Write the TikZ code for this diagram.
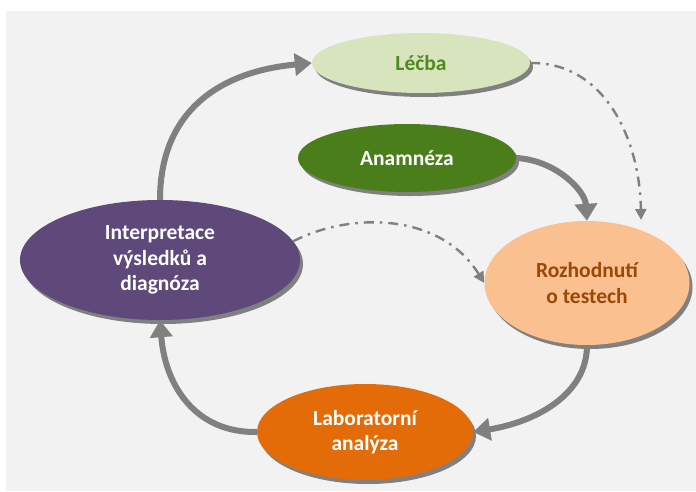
\documentclass[tikz,border=0pt]{standalone}
\usepackage{fontspec}
\setmainfont{Carlito}
\usetikzlibrary{shadows,arrows.meta,shapes.geometric}
\definecolor{bg}{HTML}{F2F2F2}
\definecolor{lecbafill}{HTML}{D7E4BD}
\definecolor{lecbatext}{HTML}{4F8A1F}
\definecolor{anamfill}{HTML}{4A7E1A}
\definecolor{interfill}{HTML}{5F497A}
\definecolor{rozfill}{HTML}{FAC090}
\definecolor{roztext}{HTML}{984807}
\definecolor{labfill}{HTML}{E36C09}
\definecolor{arrowgray}{HTML}{808080}
\tikzset{
  ell/.style={ellipse, inner sep=0pt, align=center,
    font=\bfseries\fontsize{21.5}{25.5}\selectfont,
    drop shadow={shadow xshift=3pt, shadow yshift=-4pt, fill=arrowgray, opacity=1}},
  bigarrow/.style={draw=arrowgray, line width=6pt,
    -{Triangle[length=17pt,width=22pt]}},
  dasharrow/.style={draw=arrowgray, line width=2.4pt,
    dash pattern=on 10pt off 6pt on 2.5pt off 6pt,
    -{Triangle[length=11pt,width=11pt]}},
}
\begin{document}
\begin{tikzpicture}[x=1pt,y=-1pt]
\useasboundingbox (0,0) rectangle (696,491);
\fill[bg] (6,11) rectangle (696,491);

\node[ell, fill=lecbafill, text=lecbatext, minimum width=218pt, minimum height=60pt] (L) at (421,63) {Léčba};
\node[ell, fill=anamfill, text=white, minimum width=218pt, minimum height=68pt] (A) at (407,158) {Anamnéza};
\node[ell, fill=interfill, text=white, minimum width=280pt, minimum height=120pt] (I) at (160,260) {Interpretace\\výsledků a\\diagnóza};
\node[ell, fill=rozfill, text=roztext, minimum width=205pt, minimum height=124pt] (R) at (587,283) {Rozhodnutí\\o testech};
\node[ell, fill=labfill, text=white, minimum width=216pt, minimum height=96pt] (B) at (365,432) {Laboratorní\\analýza};

\draw[bigarrow] (I.north) .. controls (160,115) and (215,72) .. (L.west);
\draw[bigarrow] (A.east) .. controls (555,160) and (585,190) .. (R.north);
\draw[bigarrow] (R.south) .. controls (587,395) and (535,422) .. (B.east);
\draw[bigarrow] (B.west) .. controls (195,433) and (165,385) .. (I.south);

\draw[dasharrow] (L.east) .. controls (605,62) and (640,140) .. (641,220);
\draw[dasharrow] (I.8) .. controls (350,212) and (440,212) .. (R.west);
\end{tikzpicture}
\end{document}
